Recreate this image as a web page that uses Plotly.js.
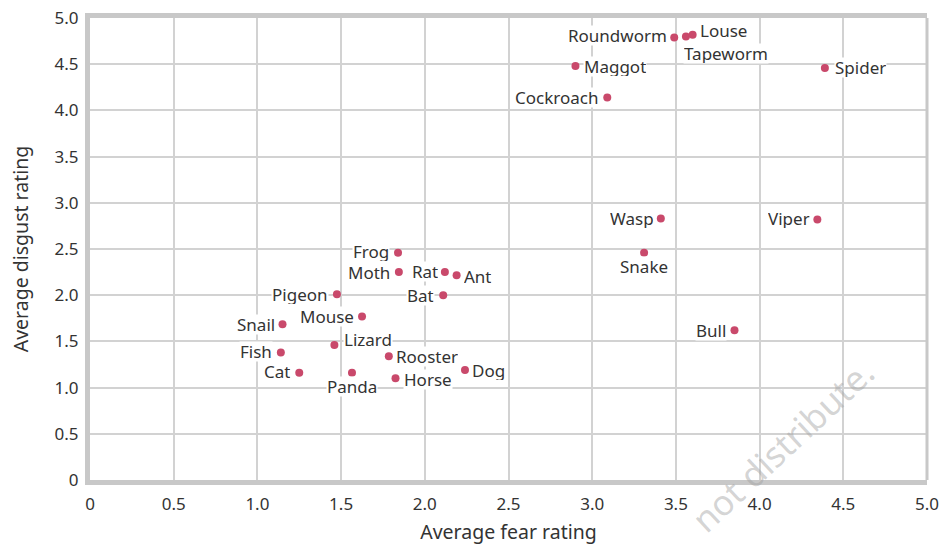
<!DOCTYPE html>
<html>
<head>
<meta charset="utf-8">
<script src="https://cdn.plot.ly/plotly-3.0.1.min.js"></script>
<style>html,body{margin:0;padding:0;background:#fff;}#chart{width:949px;height:545px;}</style>
</head>
<body>
<div id="chart"></div>
<script>
// Data
const animals = ["Roundworm","Tapeworm","Louse","Maggot","Cockroach","Spider","Wasp","Snake","Viper","Bull",
  "Frog","Moth","Rat","Ant","Bat","Pigeon","Mouse","Snail","Lizard","Fish","Cat","Panda","Rooster","Horse","Dog"];
const fearRating = [3.49,3.56,3.60,2.90,3.09,4.39,3.41,3.31,4.345,3.85,
  1.84,1.845,2.12,2.19,2.11,1.475,1.625,1.15,1.46,1.14,1.25,1.565,1.785,1.825,2.24];
const disgustRating = [4.79,4.80,4.82,4.48,4.14,4.46,2.83,2.46,2.82,1.62,
  2.46,2.25,2.25,2.215,2.00,2.01,1.77,1.685,1.46,1.38,1.16,1.16,1.34,1.10,1.19];
const tickVals = [0,0.5,1,1.5,2,2.5,3,3.5,4,4.5,5];
const tickText = ["0","0.5","1.0","1.5","2.0","2.5","3.0","3.5","4.0","4.5","5.0"];

// Label placement (layout only)
const labelAnchor = ["right","left","left","left","right","left","right","center","right","right",
  "right","right","right","left","right","right","right","right","left","right","right","center","left","left","left"];
const labelDx = [-6,-3,6,8,-8,9,-6,0,-6,-7,
  -8,-8,-6,6,-8,-8,-7,-7,9,-8,-8,0,6,7,6];
const labelDy = [2,-17,4,0,0,0,0,-14,1,0,
  1,0,1,-1,0,0,0,0,6,1,1,-14,0,-1,0];

const textColor = "#333333";
const gridColor = "#d2d2d2";
const frameColor = "#c8c8c8";
const dotColor = "#c9496b";
const fontFam = "'Noto Sans', 'Open Sans', sans-serif";

const trace = {
  type: "scatter",
  mode: "markers",
  x: fearRating,
  y: disgustRating,
  marker: {color: dotColor, size: 8},
  hoverinfo: "text",
  text: animals,
  cliponaxis: false
};

const annotations = animals.map((name, i) => ({
  x: fearRating[i], y: disgustRating[i], xref: "x", yref: "y",
  text: name, showarrow: false,
  xanchor: labelAnchor[i], yanchor: "middle",
  xshift: labelDx[i], yshift: labelDy[i],
  bgcolor: "#ffffff", borderpad: 0, height: 19,
  font: {family: fontFam, size: 17, color: textColor}
}));

annotations.push({
  xref: "paper", yref: "paper", x: 0.827, y: 0.075,
  text: "not distribute.", showarrow: false, textangle: -43,
  font: {family: fontFam, size: 35, color: "rgba(160,160,160,0.45)"},
  xanchor: "center", yanchor: "middle"
});

const layout = {
  width: 949, height: 545,
  margin: {l: 90, r: 22, t: 18, b: 65},
  paper_bgcolor: "#ffffff", plot_bgcolor: "#ffffff",
  showlegend: false,
  font: {family: fontFam, color: textColor},
  xaxis: {
    range: [0, 5], tickvals: tickVals, ticktext: tickText,
    showgrid: true, gridcolor: gridColor, gridwidth: 2,
    zeroline: false, showline: true, linecolor: frameColor, linewidth: 5, mirror: true,
    ticks: "", ticklabelstandoff: 5,
    tickfont: {family: fontFam, size: 17, color: textColor},
    title: {text: "Average fear rating", font: {family: fontFam, size: 19.5, color: textColor}, standoff: 14}
  },
  yaxis: {
    range: [0, 5], tickvals: tickVals, ticktext: tickText,
    showgrid: true, gridcolor: gridColor, gridwidth: 2,
    zeroline: false, showline: true, linecolor: frameColor, linewidth: 5,
    ticks: "", ticklabelstandoff: 3,
    tickfont: {family: fontFam, size: 17, color: textColor},
    title: {text: "Average disgust rating", font: {family: fontFam, size: 19.5, color: textColor}, standoff: 22}
  },
  shapes: [{
    type: "line", xref: "paper", yref: "paper", x0: 1, x1: 1, y0: 0, y1: 1,
    line: {color: frameColor, width: 3}
  }],
  annotations: annotations
};

Plotly.newPlot("chart", [trace], layout, {displayModeBar: false, staticPlot: true});
</script>
</body>
</html>
